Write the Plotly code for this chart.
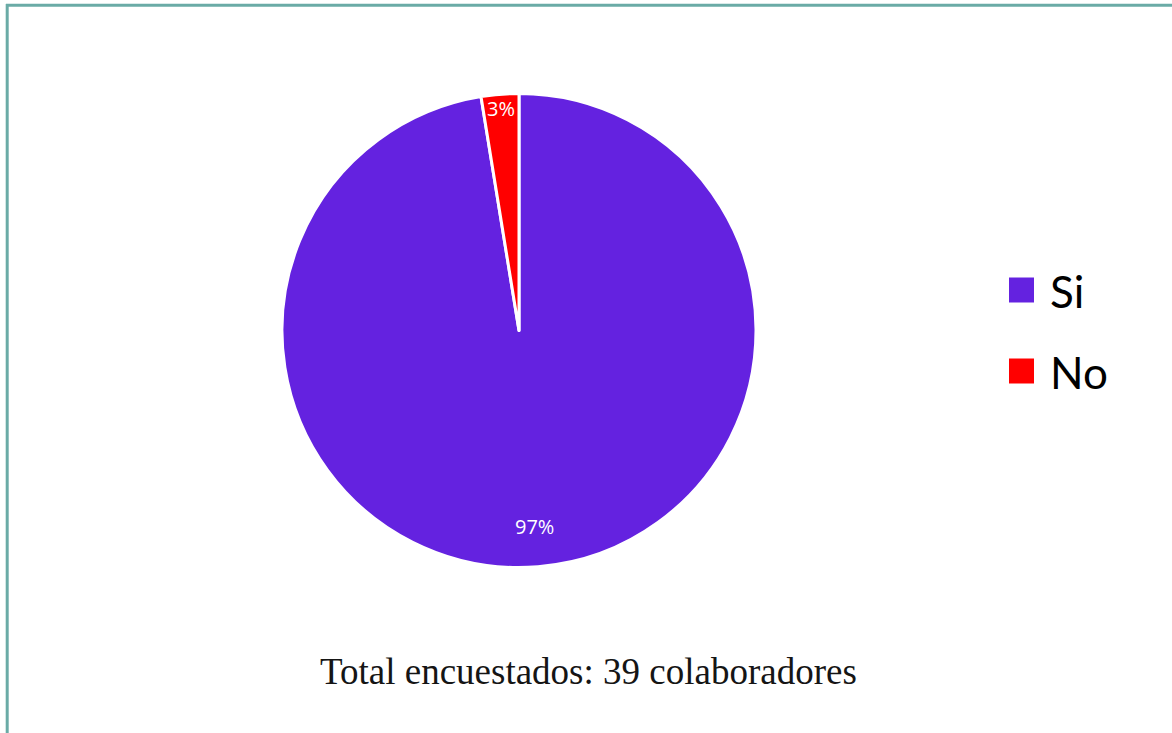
import math
import plotly.graph_objects as go

labels = ["Si", "No"]
values = [38, 1]
colors = ["#6422e0", "#ff0000"]
caption = "Total encuestados: 39 colaboradores"

W, H = 1172, 733
cx, cy, r = 519, 330.5, 237
label_radius = [0.83, 0.94]   # fraction of radius where each percent label sits

fig = go.Figure(go.Pie(
    labels=labels,
    values=values,
    sort=False,
    direction="clockwise",
    rotation=0,
    marker=dict(colors=colors, line=dict(color="white", width=3)),
    textinfo="none",
    domain=dict(x=[(cx - r) / W, (cx + r) / W], y=[(H - cy - r) / H, (H - cy + r) / H]),
    hoverinfo="label+percent",
    showlegend=False,
))

# percent labels, positioned from the data (mid angle of each slice)
total = sum(values)
annotations = []
cum = 0
for v, fr in zip(values, label_radius):
    mid = (cum + v / 2) / total * 2 * math.pi
    cum += v
    px = cx + fr * r * math.sin(mid)
    py = cy - fr * r * math.cos(mid)
    annotations.append(dict(
        text=f"{round(100 * v / total)}%", xref="paper", yref="paper",
        x=px / W, y=1 - py / H, xanchor="center", yanchor="middle", showarrow=False,
        font=dict(family="Open Sans", size=20, color="white")))

# legend (square swatches + labels) built from labels / colors
shapes = []
leg_x, leg_y0, leg_dy, sw = 1009, 290, 81, 25
for i, (lab, col) in enumerate(zip(labels, colors)):
    yc = leg_y0 + i * leg_dy
    shapes.append(dict(type="rect", xref="paper", yref="paper",
                       x0=leg_x / W, x1=(leg_x + sw) / W,
                       y0=1 - (yc + sw / 2) / H, y1=1 - (yc - sw / 2) / H,
                       fillcolor=col, line=dict(width=0)))
    annotations.append(dict(text=lab, xref="paper", yref="paper",
                            x=(leg_x + sw + 14) / W, y=1 - (yc + 1) / H,
                            xanchor="left", yanchor="middle", showarrow=False,
                            font=dict(family="Lato", size=44, color="black")))

# frame lines (top and left)
shapes += [
    dict(type="line", xref="paper", yref="paper", x0=6 / W, x1=1, y0=1 - 5.3 / H, y1=1 - 5.3 / H,
         line=dict(color="#6aaba6", width=3)),
    dict(type="line", xref="paper", yref="paper", x0=7.2 / W, x1=7.2 / W, y0=0, y1=1 - 4 / H,
         line=dict(color="#6aaba6", width=3)),
]

annotations.append(dict(text=caption, xref="paper", yref="paper", x=588.5 / W, y=1 - 671 / H,
                        xanchor="center", yanchor="middle", showarrow=False,
                        font=dict(family="Liberation Serif", size=37, color="#151515")))

fig.update_layout(
    width=W, height=H,
    margin=dict(l=0, r=0, t=0, b=0),
    paper_bgcolor="white",
    shapes=shapes,
    annotations=annotations,
)

fig.write_html("out.html", config={"displayModeBar": False},
               post_script="document.body.style.margin='0';document.body.style.overflow='hidden';")
